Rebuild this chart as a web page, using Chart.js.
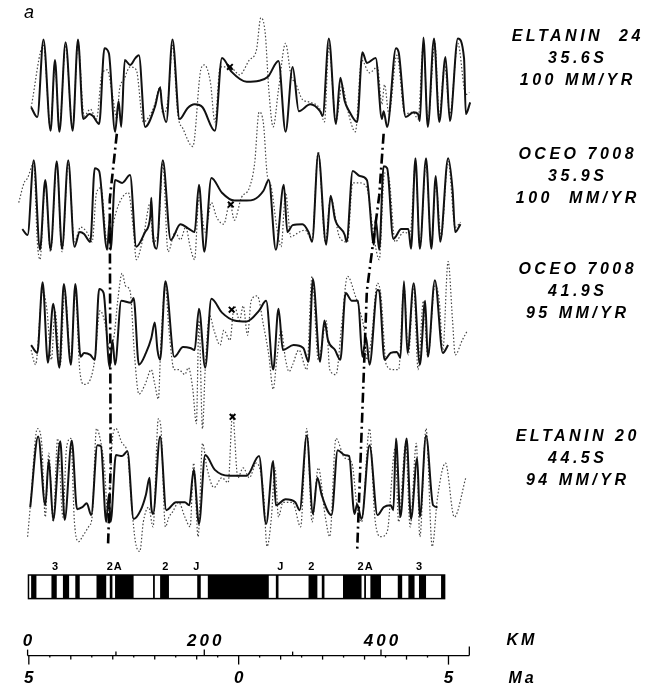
<!DOCTYPE html>
<html>
<head>
<meta charset="utf-8">
<script src="https://cdn.jsdelivr.net/npm/chart.js@4.4.1/dist/chart.umd.min.js"></script>
<style>
  html, body { margin: 0; padding: 0; background: #fff; }
  canvas { display: block; }
</style>
</head>
<body>
<canvas id="perfiles" width="653" height="696"></canvas>
<script>
// ── DATOS ── distancia en km, anomalía en nT (relativa a la línea base de cada perfil)
var e24Model = [[4,-230],[11,-330],[18,460],[26,-470],[31,250],[36,-480],[43,430],[51,-470],[57,460],[63,-350],[70,-300],[74,-320],[81,-400],[87,370],[92,320],[99,-480],[103,-170],[106,-430],[110,250],[116,200],[122,270],[126,300],[133,-430],[144,-230],[150,-30],[152,-200],[157,-380],[164,460],[172,-350],[181,-240],[189,-200],[198,-230],[212,-470],[220,270],[231,130],[248,30],[262,40],[272,80],[284,240],[292,-480],[300,180],[307,-270],[320,-200],[331,-270],[334,-320],[341,470],[349,-400],[354,70],[359,-170],[364,-270],[373,-380],[379,330],[384,220],[394,270],[401,-350],[403,-270],[407,-430],[417,370],[420,330],[428,-330],[437,-280],[442,-300],[444,-370],[448,480],[453,-430],[460,470],[466,-380],[473,280],[478,-370],[487,470],[494,270],[496,-300],[501,-180]];
var e24Obs = [[4,-230],[18,400],[26,-450],[31,200],[36,-450],[43,400],[51,-450],[57,420],[64,-320],[71,-250],[78,-350],[84,100],[90,150],[96,-100],[101,-350],[104,-50],[109,50],[116,180],[123,150],[131,-380],[138,-320],[144,-200],[150,-20],[153,-300],[159,-150],[164,400],[170,-300],[176,-450],[187,-630],[196,150],[200,200],[207,20],[212,-380],[218,180],[229,180],[240,100],[251,250],[259,350],[264,680],[269,520],[273,-50],[278,-430],[284,-50],[292,420],[298,100],[304,0],[311,-150],[320,-180],[331,-250],[336,-380],[341,400],[349,-380],[356,0],[362,-250],[371,-480],[378,250],[387,120],[396,180],[401,-200],[404,0],[409,-300],[418,300],[427,-300],[436,-280],[442,-350],[448,420],[453,-380],[461,420],[466,-320],[472,200],[478,-300],[487,420],[496,-100],[500,-80]];

var o35Model = [[-6,-250],[0,-310],[7,450],[14,-460],[20,250],[26,-460],[33,440],[39,-450],[46,450],[53,-430],[59,-280],[64,-300],[71,-380],[76,370],[81,340],[90,-460],[93,-150],[94,-460],[99,250],[107,220],[116,300],[123,-430],[133,-280],[139,-110],[140,70],[142,-310],[146,-450],[153,450],[162,-360],[173,-200],[183,-250],[189,-280],[194,200],[200,-480],[208,270],[220,120],[234,40],[248,40],[256,50],[267,140],[273,250],[281,-460],[290,200],[294,-280],[300,-210],[311,-200],[318,-280],[322,-380],[329,520],[338,-410],[343,90],[348,-150],[359,-310],[361,-380],[368,340],[376,290],[384,250],[392,-410],[394,-150],[398,-460],[403,390],[407,370],[414,-350],[423,-250],[431,-250],[434,-450],[439,470],[444,-450],[451,470],[457,-450],[462,290],[467,-380],[476,470],[481,150],[484,-280],[490,-200]];
var o35Obs = [[-10,20],[-4,220],[0,270],[7,420],[11,-380],[14,-560],[20,220],[26,-480],[33,420],[39,-480],[46,420],[53,-380],[60,-230],[67,-280],[73,-380],[78,120],[83,170],[90,-380],[96,-230],[100,-80],[107,70],[114,120],[120,-280],[123,-560],[131,-330],[139,20],[142,-380],[148,-280],[153,420],[159,-480],[167,-280],[173,-360],[179,-230],[184,-430],[189,-560],[194,70],[201,-280],[208,20],[214,-130],[222,-200],[229,20],[234,-160],[242,70],[251,170],[257,420],[262,940],[267,820],[271,320],[276,170],[282,-230],[287,-430],[292,120],[298,-330],[304,-300],[314,-260],[322,-360],[329,540],[337,-380],[343,70],[353,-330],[362,-380],[368,220],[376,220],[384,170],[392,-330],[398,-560],[404,320],[409,270],[416,-380],[426,-280],[433,-300],[439,420],[444,-430],[451,420],[457,-430],[462,220],[468,-330],[476,440],[484,-230],[490,-180]];

var o41Model = [[4,-220],[11,-300],[17,420],[23,-400],[29,200],[36,-450],[41,400],[49,-420],[54,400],[60,-340],[64,-300],[71,-320],[76,-370],[81,350],[86,310],[93,-450],[96,-170],[99,-420],[106,230],[117,210],[120,260],[126,-420],[134,-300],[140,-150],[144,10],[147,-270],[150,-370],[156,430],[166,-340],[176,-240],[184,-250],[189,-270],[194,150],[201,-450],[208,250],[220,110],[234,30],[248,20],[262,130],[270,230],[278,-470],[284,150],[289,-270],[301,-220],[312,-250],[318,-390],[323,450],[331,-390],[336,30],[340,-170],[348,-270],[354,-370],[360,310],[367,230],[374,230],[379,-340],[383,-140],[387,-420],[396,340],[398,330],[404,-370],[411,-300],[418,-290],[422,-350],[426,430],[430,-300],[437,410],[444,-420],[450,230],[453,-340],[461,440],[470,-300],[476,-220]];
var o41Obs = [[4,-270],[9,-420],[17,330],[22,130],[27,-370],[31,130],[37,-420],[42,330],[49,-370],[54,330],[59,-470],[64,-620],[71,-570],[76,-370],[82,130],[87,30],[93,-270],[98,-120],[102,230],[107,510],[111,380],[116,330],[121,-320],[126,-720],[133,-620],[140,-470],[144,-620],[148,-770],[151,-170],[156,380],[160,-70],[166,-470],[171,-470],[178,-520],[182,-450],[187,-670],[191,-1020],[194,30],[198,-1070],[201,-470],[206,80],[211,-70],[218,-220],[222,-70],[229,-170],[234,180],[240,30],[244,180],[249,-120],[253,230],[260,280],[267,-20],[273,-320],[278,-670],[282,-370],[287,-70],[292,-370],[296,-490],[300,-420],[307,-270],[316,-470],[322,480],[329,-370],[333,-220],[338,30],[342,-470],[349,-520],[356,30],[362,480],[371,280],[376,130],[381,-70],[384,-370],[389,-170],[396,410],[400,280],[406,-420],[414,-470],[420,-470],[426,380],[431,-320],[437,380],[442,-470],[448,230],[453,-340],[461,380],[466,230],[470,-270],[476,630],[481,30],[484,-320],[492,-170],[498,-70]];

var e20Model = [[3,-290],[12,430],[20,-270],[24,190],[29,-420],[37,380],[42,-420],[50,390],[56,-310],[62,-290],[67,-250],[72,-370],[79,340],[83,330],[89,-440],[92,-160],[94,-440],[100,240],[107,230],[113,280],[120,-410],[128,-320],[134,-160],[138,10],[140,-290],[142,-360],[150,430],[157,-320],[168,-240],[178,-240],[183,-270],[188,90],[194,-460],[201,240],[212,90],[228,30],[248,30],[262,230],[270,-460],[278,180],[281,-270],[292,-210],[303,-240],[308,-320],[316,440],[323,-360],[328,10],[333,-170],[344,-370],[351,290],[359,240],[364,230],[370,-360],[373,-260],[378,-410],[387,340],[396,-370],[403,-290],[411,-270],[414,-320],[417,410],[422,-390],[429,410],[434,-410],[441,210],[444,-390],[451,440],[459,-270],[464,-290]];
var e20Obs = [[0,-590],[3,-290],[11,510],[16,360],[20,-390],[24,260],[29,-440],[34,410],[40,-390],[44,310],[49,410],[53,-440],[58,-640],[62,-590],[69,-490],[73,-390],[78,510],[82,410],[87,110],[91,-390],[96,410],[100,510],[107,360],[113,260],[118,-290],[122,-640],[127,-740],[131,-440],[137,-290],[142,-490],[148,610],[151,510],[156,-490],[160,-390],[164,-340],[171,-240],[178,-390],[184,-490],[188,160],[193,-590],[198,360],[203,110],[211,-90],[220,10],[227,-40],[232,660],[238,10],[244,110],[251,10],[259,160],[267,-140],[271,-690],[276,-390],[280,110],[284,-390],[289,-240],[300,-240],[309,-490],[316,510],[322,-440],[329,110],[337,-390],[342,-590],[349,410],[359,210],[367,160],[373,-290],[378,-440],[387,510],[393,-390],[400,-590],[407,-540],[416,310],[420,-440],[428,360],[433,-490],[440,360],[444,-590],[451,510],[458,-690],[464,-190],[473,160],[483,-390],[496,10]];

// línea base de cada perfil (nT en el eje común)
var baseOffsets = [-800, -2020, -3230, -4810];
// marcas "x" sobre el eje de dorsal
var crossMarks = [[229,180],[230,0],[231,140],[232,630]];
// líneas de correlación (eje común)
var corrLeft  = [[101,-1300],[93,-1970],[94,-4700],[91,-5500]];
var corrRight = [[403,-1300],[398,-1930],[384,-2900],[373,-5550]];

var perfilNombres = [
  ['ELTANIN  24', '35.6S', '100 MM/YR'],
  ['OCEO 7008', '35.9S', '100  MM/YR'],
  ['OCEO 7008', '41.9S', '95 MM/YR'],
  ['ELTANIN 20', '44.5S', '94 MM/YR']
];

// escala de polaridad (bloques normales, km)
var barRange = [1, 472];
var normalBlocks = [[4,10],[27,33],[40,47],[54,59],[78,89],[93,96],[99,120],[142,144],[150,160],[192,196],[204,273],[281,284],[318,328],[333,336],[357,378],[381,383],[388,400],[419,424],[431,438],[443,451],[468,472]];
var chronLabels = ['3','2A','2','J','J','2','2A','3'];
var chronKm = [31, 98, 156, 191, 286, 321, 382, 443];

var kmTicks = [0, 100, 200, 300, 400, 500];
var kmLabels = [0, 200, 400];
var maTicks = [-5, -4, -3, -2, -1, 0, 1, 2, 3, 4, 5];
var maLabels = [-5, 0, 5];
var ridgeKm = 238.9;
var kmPorMa = 47.5;

// ── CONSTRUCCIÓN ──
function serie(arr, off) {
  return arr.map(function(p) { return { x: p[0], y: p[1] + off }; });
}
function pares(arr) {
  return arr.map(function(p) { return { x: p[0], y: p[1] }; });
}

var modelos = [e24Model, o35Model, o41Model, e20Model];
var observados = [e24Obs, o35Obs, o41Obs, e20Obs];
var datasets = [];

[corrLeft, corrRight].forEach(function(c) {
  datasets.push({ data: pares(c), borderColor: '#000', borderWidth: 2.6,
    borderDash: [10, 4, 2, 4], pointRadius: 0, tension: 0 });
});
datasets.push({ data: crossMarks.map(function(p, i) { return { x: p[0], y: p[1] + baseOffsets[i] }; }),
  showLine: false, pointStyle: 'crossRot', pointRadius: 4, borderWidth: 2,
  borderColor: '#000', backgroundColor: '#000' });
modelos.forEach(function(m, i) {
  datasets.push({ data: serie(m, baseOffsets[i]), borderColor: '#111', borderWidth: 2,
    pointRadius: 0, cubicInterpolationMode: 'monotone' });
});
observados.forEach(function(o, i) {
  datasets.push({ data: serie(o, baseOffsets[i]), borderColor: '#444', borderWidth: 1.2,
    borderDash: [1.5, 2], pointRadius: 0, cubicInterpolationMode: 'monotone' });
});

function texto(ctx, t, x, y, esp) {
  // centrado con espaciado entre letras
  if ('letterSpacing' in ctx) {
    ctx.letterSpacing = esp + 'px';
    ctx.fillText(t, x + esp / 2, y);
    ctx.letterSpacing = '0px';
  } else {
    ctx.fillText(t, x, y);
  }
}

var decor = {
  id: 'decor',
  beforeDraw: function(chart) {
    var c = chart.ctx;
    c.save(); c.fillStyle = '#fff'; c.fillRect(0, 0, chart.width, chart.height); c.restore();
  },
  afterDraw: function(chart) {
    var ctx = chart.ctx, xs = chart.scales.x, ys = chart.scales.y;
    var X = function(v) { return xs.getPixelForValue(v); };
    var Y = function(v) { return ys.getPixelForValue(v); };
    ctx.save();

    // letra del panel
    ctx.fillStyle = '#000';
    ctx.font = 'italic 18px "Liberation Sans"';
    ctx.textAlign = 'left'; ctx.textBaseline = 'middle';
    ctx.fillText('a', 24, 13);

    // nombres de perfiles
    ctx.font = 'italic bold 16px "Liberation Sans"';
    ctx.textAlign = 'center';
    var filas = [37, 155, 270, 437];
    perfilNombres.forEach(function(lines, i) {
      lines.forEach(function(t, j) { texto(ctx, t, 576, filas[i] + j * 22, 3.5); });
    });

    // barra de polaridad
    var top = Y(-5790), bot = Y(-6030);
    var x0 = X(barRange[0]), x1 = X(barRange[1]);
    ctx.fillStyle = '#fff';
    ctx.fillRect(x0, top, x1 - x0, bot - top);
    ctx.fillStyle = '#000';
    normalBlocks.forEach(function(b) { ctx.fillRect(X(b[0]), top, X(b[1]) - X(b[0]), bot - top); });
    ctx.strokeStyle = '#000'; ctx.lineWidth = 1.5;
    ctx.strokeRect(x0, top, x1 - x0, bot - top);

    ctx.font = 'bold 11px "Liberation Sans"';
    ctx.textAlign = 'center';
    chronLabels.forEach(function(l, i) { texto(ctx, l, X(chronKm[i]), Y(-5710), 1); });

    // eje KM / Ma
    var ay = Y(-6610);
    ctx.lineWidth = 1.3;
    ctx.beginPath(); ctx.moveTo(X(0), ay); ctx.lineTo(X(500), ay); ctx.stroke();
    kmTicks.forEach(function(k) {
      var len = (k === 500) ? 9 : (kmLabels.indexOf(k) >= 0 ? 6 : 4);
      ctx.beginPath(); ctx.moveTo(X(k), ay); ctx.lineTo(X(k), ay - len); ctx.stroke();
    });
    maTicks.forEach(function(m) {
      var k = ridgeKm + m * kmPorMa;
      var len = maLabels.indexOf(m) >= 0 ? 9 : 4;
      ctx.beginPath(); ctx.moveTo(X(k), ay); ctx.lineTo(X(k), ay + len); ctx.stroke();
    });
    for (var h = -4.5; h <= 4.5; h += 1) {
      var kh = ridgeKm + h * kmPorMa;
      ctx.beginPath(); ctx.moveTo(X(kh), ay); ctx.lineTo(X(kh), ay + 2); ctx.stroke();
    }

    ctx.font = 'italic bold 17px "Liberation Sans"';
    kmLabels.forEach(function(k) { texto(ctx, String(k), X(k), Y(-6460), 3); });
    maLabels.forEach(function(m) { texto(ctx, String(Math.abs(m)), X(ridgeKm + m * kmPorMa), Y(-6840), 0); });
    ctx.font = 'italic bold 16px "Liberation Sans"';
    ctx.textAlign = 'left';
    texto(ctx, 'KM', 505, Y(-6460), 3);
    texto(ctx, 'Ma', 507, Y(-6840), 3);
    ctx.restore();
  }
};

var chart = new Chart(document.getElementById('perfiles'), {
  type: 'line',
  data: { datasets: datasets },
  options: {
    responsive: false, animation: false, devicePixelRatio: 1,
    layout: { padding: 0 },
    plugins: { legend: { display: false }, tooltip: { enabled: false } },
    scales: {
      x: { type: 'linear', min: -24.44, max: 701.1, display: false },
      y: { type: 'linear', min: -6960, max: 0, display: false }
    }
  },
  plugins: [decor]
});
</script>
</body>
</html>
